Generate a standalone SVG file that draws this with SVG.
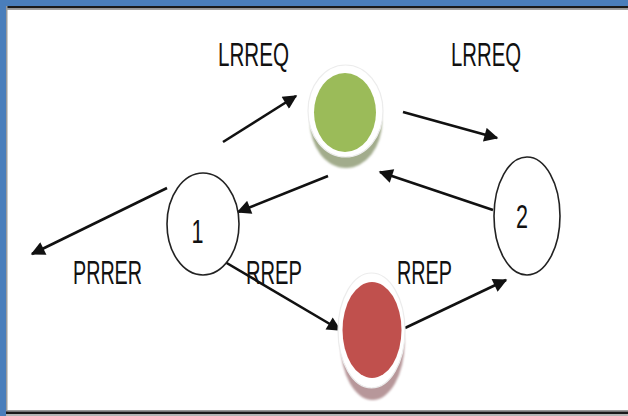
<svg xmlns="http://www.w3.org/2000/svg" width="628" height="416" viewBox="0 0 628 416">
  <defs>
    <style>
      .lbl { font-family: "Liberation Sans", Arial, sans-serif; font-size: 33px; fill: #111; }
      .num { font-family: "Liberation Sans", Arial, sans-serif; font-size: 34px; fill: #111; }
      .ring { fill: #ffffff; stroke: #222; stroke-width: 1.6; }
      .halo { fill: #ffffff; stroke: #ececec; stroke-width: 1.2; }
      .conn { stroke: #111; stroke-width: 2.6; fill: none; marker-end: url(#head); }
    </style>
    <marker id="head" viewBox="0 0 10 10" refX="9" refY="5" markerWidth="6" markerHeight="5.4" orient="auto" markerUnits="strokeWidth">
      <path d="M0,0 L10,5 L0,10 z" fill="#111"/>
    </marker>
    <filter id="soft" x="-30%" y="-30%" width="160%" height="160%">
      <feGaussianBlur stdDeviation="1.3"/>
    </filter>
  </defs>

  <!-- frame -->
  <rect x="0" y="0" width="628" height="416" fill="#ffffff"/>
  <rect x="0" y="0" width="628" height="6" fill="#4a7ebb"/>
  <rect x="0" y="0" width="6" height="416" fill="#4a7ebb"/>
  <rect x="6" y="6" width="622" height="2.5" fill="#1a1a1a"/>
  <rect x="6" y="8.5" width="622" height="1.5" fill="#a0a0a0"/>
  <rect x="6" y="6" width="1.5" height="406" fill="#9a9a9a"/>
  <rect x="6" y="410" width="622" height="1.5" fill="#9a9a9a"/>
  <rect x="6" y="411.5" width="622" height="2.5" fill="#1a1a1a"/>
  <rect x="6" y="414" width="622" height="2" fill="#b5b5b5"/>

  <!-- connectors -->
  <g id="connectors">
    <line class="conn" x1="223" y1="142" x2="296" y2="96"/>
    <line class="conn" x1="403" y1="112" x2="497" y2="138"/>
    <line class="conn" x1="328" y1="176" x2="238" y2="212"/>
    <line class="conn" x1="493" y1="210" x2="380" y2="172"/>
    <line class="conn" x1="167" y1="188" x2="32" y2="254"/>
    <line class="conn" x1="225" y1="262" x2="340" y2="330"/>
    <line class="conn" x1="405" y1="328" x2="506" y2="280"/>
  </g>

  <!-- labels -->
  <g id="labels">
    <text class="lbl" x="218" y="66" textLength="71" lengthAdjust="spacingAndGlyphs">LRREQ</text>
    <text class="lbl" x="451" y="66" textLength="70" lengthAdjust="spacingAndGlyphs">LRREQ</text>
    <text class="lbl" x="73" y="284" textLength="69" lengthAdjust="spacingAndGlyphs">PRRER</text>
    <text class="lbl" x="246" y="284" textLength="56" lengthAdjust="spacingAndGlyphs">RREP</text>
    <text class="lbl" x="397" y="284" textLength="55" lengthAdjust="spacingAndGlyphs">RREP</text>
  </g>

  <!-- green relay node: lower rim, white bezel, fill -->
  <g id="node-green">
    <ellipse cx="346" cy="122" rx="36" ry="46" fill="#a2ac8c" filter="url(#soft)"/>
    <ellipse class="halo" cx="345.5" cy="111" rx="37.5" ry="46"/>
    <ellipse cx="345" cy="112.5" rx="31" ry="39.5" fill="#9bbb59"/>
  </g>

  <!-- red relay node: lower rim, white bezel, fill -->
  <g id="node-red">
    <ellipse cx="372.5" cy="343" rx="32" ry="57" fill="#b7979a" filter="url(#soft)"/>
    <ellipse class="halo" cx="371.5" cy="330.5" rx="33.5" ry="57.5"/>
    <ellipse cx="372" cy="330" rx="29.5" ry="48" fill="#c0504d"/>
  </g>

  <!-- node 1 -->
  <g id="node-1">
    <ellipse class="ring" cx="203" cy="224" rx="36" ry="51"/>
    <text class="num" x="197.5" y="243" text-anchor="middle" textLength="12" lengthAdjust="spacingAndGlyphs">1</text>
  </g>

  <!-- node 2 -->
  <g id="node-2">
    <ellipse class="ring" cx="527" cy="216" rx="33" ry="59"/>
    <text class="num" x="522" y="228" text-anchor="middle" textLength="12" lengthAdjust="spacingAndGlyphs">2</text>
  </g>
</svg>
